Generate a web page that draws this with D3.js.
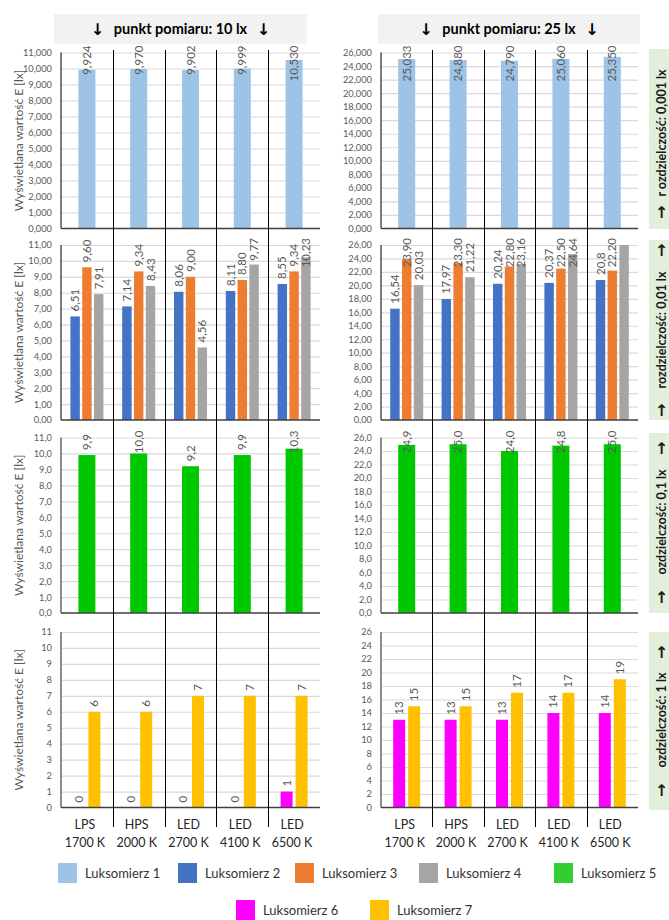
<!DOCTYPE html>
<html><head><meta charset="utf-8">
<script src="https://cdn.jsdelivr.net/npm/d3@7"></script>
<style>body{margin:0;background:#fff}svg{display:block}</style>
</head><body>
<svg id="c" width="669" height="920"></svg>
<script>
// ---------------- DATA ----------------
const categories = [["LPS","1700 K"],["HPS","2000 K"],["LED","2700 K"],["LED","4100 K"],["LED","6500 K"]];
const measurePoints = ["punkt pomiaru: 10 lx", "punkt pomiaru: 25 lx"];
const resolutions = ["r ozdzielczość: 0,001 lx", "rozdzielczość: 0,01 lx", "ozdzielczość: 0,1 lx", "ozdzielczość: 1 lx"];
const seriesNames = ["Luksomierz 1","Luksomierz 2","Luksomierz 3","Luksomierz 4","Luksomierz 5","Luksomierz 6","Luksomierz 7"];
const seriesColors = ["#9dc3e6","#4472c4","#ed7d31","#a5a5a5","#00c800","#ff00ff","#ffc000"];
const legendColors = ["#9dc3e6","#4472c4","#ed7d31","#a5a5a5","#33cc33","#ff00ff","#ffc000"];
const yAxisTitle = "Wyświetlana wartość E [lx]";

// values as displayed (Polish decimal comma); index 0 = 10 lx, 1 = 25 lx
const lux1 = [["9,924","9,970","9,902","9,999","10,530"], ["25,033","24,880","24,790","25,060","25,350"]];
const lux2 = [["6,51","7,14","8,06","8,11","8,55"], ["16,54","17,97","20,24","20,37","20,8"]];
const lux3 = [["9,60","9,34","9,00","8,80","9,34"], ["23,90","23,30","22,80","22,50","22,20"]];
const lux4 = [["7,91","8,43","4,56","9,77","10,23"], ["20,03","21,22","23,16","24,64","26,00"]];
const lux5 = [["9,9","10,0","9,2","9,9","10,3"], ["24,9","25,0","24,0","24,8","25,0"]];
const lux6 = [["0","0","0","0","1"], ["13","13","13","14","14"]];
const lux7 = [["6","6","7","7","7"], ["15","15","17","17","19"]];

const yMax = [11, 26];
const yStep = [1, 2];
const tickDecimals = [3, 2, 1, 0];
const rowSeries = [[0], [1,2,3], [4], [5,6]];
const seriesValues = [lux1, lux2, lux3, lux4, lux5, lux6, lux7];

// ---------------- LAYOUT ----------------
const colX = [[61, 320], [381, 638]];
const rowY = [[52.5, 228.5], [245, 420], [437.5, 613], [632, 807.5]];
const groupW = {1: 17, 2: 27, 3: 33};
const font = "Lato, 'Liberation Sans', sans-serif";
const grey = "#595959";

const svg = d3.select("#c");
const loc = d3.formatLocale({decimal: ",", thousands: "\u00a0", grouping: [3], currency: ["", ""]});
const parse = s => +s.replace(",", ".");

// header boxes
const headerBoxes = [[54, 307], [378, 640]];
headerBoxes.forEach((hb, c) => {
  const g = svg.append("g");
  g.append("rect").attr("x", hb[0]).attr("y", 14).attr("width", hb[1]-hb[0]).attr("height", 30).attr("fill", "#f2f2f2");
  const cx = (hb[0]+hb[1])/2;
  g.append("text").attr("x", cx).attr("y", 29).attr("dy", "0.35em").attr("text-anchor", "middle")
    .attr("font-family", font).attr("font-weight", "bold").attr("font-size", 14.5).attr("fill", "#000")
    .text(measurePoints[c]);
  [-83, 83].forEach(dx => g.append("text").attr("x", cx+dx).attr("y", 29).attr("dy", "0.38em")
    .attr("text-anchor", "middle").attr("font-family", "'DejaVu Sans', sans-serif").attr("font-weight", "bold")
    .attr("font-size", 16).attr("fill", "#000").text("↓"));
});

// side resolution boxes
const sideBoxes = [[49, 229], [240, 420], [433, 613], [632, 810]];
const sideTextCy = [133, 330, 522, 720];
const sideArrows = [[212], [250, 410], [448, 597], [652, 790]];
sideBoxes.forEach((b, r) => {
  const g = svg.append("g");
  g.append("rect").attr("x", 649).attr("y", b[0]).attr("width", 30).attr("height", b[1]-b[0]).attr("fill", "#e2efda");
  g.append("text").attr("transform", `translate(661.5,${sideTextCy[r]}) rotate(-90)`).attr("dy", "0.35em")
    .attr("text-anchor", "middle").attr("font-family", font).attr("font-weight", "bold").attr("font-size", 12.5)
    .attr("fill", "#1a1a1a").text(resolutions[r]);
  sideArrows[r].forEach(ay => g.append("text").attr("x", 661.5).attr("y", ay).attr("dy", "0.38em")
    .attr("text-anchor", "middle").attr("font-family", "'DejaVu Sans', sans-serif").attr("font-weight", "bold")
    .attr("font-size", 16).attr("fill", "#1a1a1a").text("↑"));
});

// panels
const xScales = colX.map(cx => d3.scaleBand().domain(d3.range(categories.length)).range(cx));

rowY.forEach((ry, r) => {
  colX.forEach((cx, c) => {
    const x = xScales[c];
    const y = d3.scaleLinear().domain([0, yMax[c]]).range([ry[1], ry[0]]);
    const ticks = d3.range(0, yMax[c] + 1e-9, yStep[c]);
    const g = svg.append("g");

    // gridlines
    const grid = g.append("g").attr("transform", `translate(${cx[0]},0)`)
      .call(d3.axisLeft(y).tickValues(ticks.filter(t => t > 0)).tickSize(-(cx[1]-cx[0])).tickFormat(""));
    grid.select(".domain").remove();
    grid.selectAll("line").attr("stroke", "#d9d9d9").attr("stroke-width", 1.2);

    // tick labels
    const ax = g.append("g").attr("transform", `translate(${cx[0]},0)`)
      .call(d3.axisLeft(y).tickValues(ticks).tickSize(0).tickPadding(9).tickFormat(loc.format(`.${tickDecimals[r]}f`)));
    ax.select(".domain").remove();
    ax.selectAll("text").attr("font-family", font).attr("font-size", 9.3).attr("fill", grey);

    // bars
    const ser = rowSeries[r];
    const gw = groupW[ser.length];
    const inner = d3.scaleBand().domain(ser).range([-gw/2, gw/2]).paddingInner(ser.length > 1 ? 0.2 : 0);
    ser.forEach(s => {
      const vals = seriesValues[s][c];
      vals.forEach((str, i) => {
        const v = parse(str);
        const vv = Math.min(v, yMax[c]);
        const bx = x(i) + x.bandwidth()/2 + inner(s);
        g.append("rect").attr("x", bx).attr("y", y(vv)).attr("width", inner.bandwidth())
          .attr("height", y(0) - y(vv)).attr("fill", seriesColors[s]);
        if (v < yMax[c]) {
          const t = g.append("text").attr("font-family", font).attr("font-size", 11.5).attr("fill", grey)
            .attr("dy", "0.35em").attr("text-anchor", "start").text(str);
          const L = t.node().getComputedTextLength();
          let ay = y(vv) - 5;
          if (ay - L < ry[0] - 7) ay = ry[0] - 7 + L;
          t.attr("transform", `translate(${bx + inner.bandwidth()/2},${ay}) rotate(-90)`);
        }
      });
    });

    // axes lines
    g.append("line").attr("x1", cx[0]).attr("x2", cx[0]).attr("y1", ry[0]).attr("y2", ry[1])
      .attr("stroke", r < 2 ? "#262626" : "#7f7f7f").attr("stroke-width", r < 2 ? 1.2 : 1.8);
    g.append("line").attr("x1", cx[0]).attr("x2", cx[1]).attr("y1", ry[1]).attr("y2", ry[1])
      .attr("stroke", "#404040").attr("stroke-width", 1.5);

    // y title (left column only)
    if (c === 0) {
      svg.append("text").attr("transform", `translate(18.5,${(ry[0]+ry[1])/2}) rotate(-90)`).attr("dy", "0.35em")
        .attr("text-anchor", "middle").attr("font-family", font).attr("font-size", 12).attr("fill", grey).text(yAxisTitle);
    }
  });
});

// category separators + labels
xScales.forEach(x => {
  d3.range(1, categories.length).forEach(i => {
    const sx = Math.round(x(i)) + 0.5;
    svg.append("line").attr("x1", sx).attr("x2", sx).attr("y1", 50).attr("y2", 827)
      .attr("stroke", "#000").attr("stroke-width", 1);
  });
  categories.forEach((cat, i) => {
    const t = svg.append("text").attr("font-family", font).attr("font-size", 12.5).attr("fill", "#262626")
      .attr("text-anchor", "middle");
    cat.forEach((line, k) => t.append("tspan").attr("x", x(i) + x.bandwidth()/2 - 2).attr("y", 825 + k*18)
      .attr("dy", "0.35em").text(line));
  });
});

// legend
const legendPos = [[58, 873], [178, 873], [295, 873], [419, 873], [554, 873], [236, 910], [370, 910]];
seriesNames.forEach((name, s) => {
  const [lx, ly] = legendPos[s];
  svg.append("rect").attr("x", lx).attr("y", ly - 10).attr("width", 19).attr("height", 20).attr("fill", legendColors[s]);
  svg.append("text").attr("x", lx + 27).attr("y", ly).attr("dy", "0.35em").attr("font-family", font)
    .attr("font-size", 13).attr("fill", "#333").text(name);
});
</script>
</body></html>
